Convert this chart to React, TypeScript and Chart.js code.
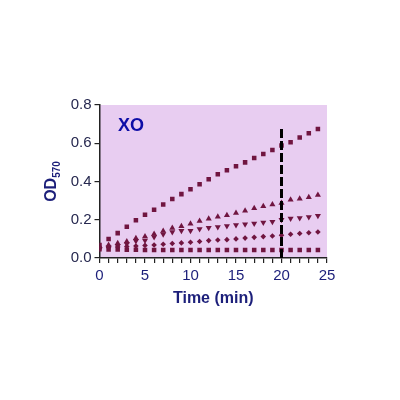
import { useEffect, useRef } from 'react';
import { Chart, registerables } from 'chart.js';

Chart.register(...registerables);

const TIME = [0, 1, 2, 3, 4, 5, 6, 7, 8, 9, 10, 11, 12, 13, 14, 15, 16, 17, 18, 19, 20, 21, 22, 23, 24];

const TOP_SQUARES = [
  0.068, 0.099, 0.13, 0.163, 0.197, 0.226, 0.252, 0.28, 0.308, 0.334, 0.36, 0.386, 0.412,
  0.438, 0.459, 0.48, 0.5, 0.523, 0.544, 0.565, 0.588, 0.605, 0.63, 0.652, 0.675,
];
const TRI_UP = [
  0.063, 0.068, 0.077, 0.086, 0.103, 0.112, 0.126, 0.141, 0.157, 0.166, 0.179, 0.193, 0.205,
  0.216, 0.224, 0.235, 0.247, 0.26, 0.27, 0.28, 0.287, 0.304, 0.31, 0.318, 0.329,
];
const TRI_DOWN = [
  0.049, 0.056, 0.063, 0.073, 0.089, 0.092, 0.11, 0.124, 0.136, 0.142, 0.142, 0.151, 0.158,
  0.162, 0.167, 0.172, 0.177, 0.18, 0.186, 0.19, 0.2, 0.206, 0.209, 0.214, 0.221,
];
const DIAMONDS = [
  0.05, 0.055, 0.058, 0.06, 0.063, 0.066, 0.068, 0.072, 0.076, 0.079, 0.082, 0.086, 0.091,
  0.094, 0.096, 0.1, 0.104, 0.108, 0.112, 0.115, 0.119, 0.124, 0.128, 0.132, 0.136,
];
const BOTTOM_SQUARES = [
  0.046, 0.045, 0.044, 0.043, 0.043, 0.042, 0.042, 0.042, 0.042, 0.042, 0.042, 0.042, 0.042,
  0.042, 0.042, 0.042, 0.042, 0.042, 0.042, 0.042, 0.042, 0.042, 0.042, 0.042, 0.042,
];

const CUTOFF_X = [20, 20];
const CUTOFF_Y = [0, 0.69];

const Y_TICKS = [0, 0.2, 0.4, 0.6, 0.8];

const MARKER = '#701540';
const NAVY = '#1c1f7a';
const FONT = '"Liberation Sans", Arial, sans-serif';

const pts = (ys: number[]) => ys.map((y, i) => ({ x: TIME[i], y }));

const panelPlugin = {
  id: 'panel',
  beforeDraw(chart: Chart) {
    const { ctx, chartArea: a } = chart;
    ctx.save();
    ctx.fillStyle = '#e8cdf1';
    ctx.fillRect(a.left, a.top, a.right - a.left, a.bottom - a.top);
    ctx.restore();
  },
  afterDraw(chart: Chart) {
    const { ctx, chartArea: a, scales } = chart;
    ctx.save();
    // y axis title with subscript
    ctx.fillStyle = NAVY;
    ctx.translate(56, (a.top + a.bottom) / 2);
    ctx.rotate(-Math.PI / 2);
    ctx.font = `bold 16px ${FONT}`;
    const wOD = ctx.measureText('OD').width;
    ctx.font = `bold 10px ${FONT}`;
    const wSub = ctx.measureText('570').width;
    const start = -(wOD + wSub) / 2;
    ctx.textBaseline = 'alphabetic';
    ctx.font = `bold 16px ${FONT}`;
    ctx.fillText('OD', start, 0);
    ctx.font = `bold 10px ${FONT}`;
    ctx.fillText('570', start + wOD, 4);
    ctx.restore();

    ctx.save();
    ctx.fillStyle = '#0d0da6';
    ctx.font = `bold 18px ${FONT}`;
    ctx.textAlign = 'center';
    ctx.textBaseline = 'middle';
    ctx.fillText('XO', scales.x.getPixelForValue(3.45), scales.y.getPixelForValue(0.69));
    ctx.restore();
  },
};

export default function App() {
  const canvasRef = useRef<HTMLCanvasElement>(null);

  useEffect(() => {
    if (!canvasRef.current) return;
    const series = [
      { data: TOP_SQUARES, pointStyle: 'rect', radius: 3.2, rotation: 0 },
      { data: TRI_UP, pointStyle: 'triangle', radius: 3.5, rotation: 0 },
      { data: TRI_DOWN, pointStyle: 'triangle', radius: 3.5, rotation: 180 },
      { data: DIAMONDS, pointStyle: 'rectRot', radius: 2.8, rotation: 0 },
      { data: BOTTOM_SQUARES, pointStyle: 'rect', radius: 3.2, rotation: 0 },
    ];

    const chart = new Chart(canvasRef.current, {
      type: 'scatter',
      data: {
        datasets: [
          {
            data: CUTOFF_X.map((x, i) => ({ x, y: CUTOFF_Y[i] })),
            showLine: true,
            borderColor: '#000',
            borderWidth: 3,
            borderDash: [9, 3],
            pointRadius: 0,
            order: 0,
          },
          ...series.map((s) => ({
            data: pts(s.data),
            pointStyle: s.pointStyle,
            pointRadius: s.radius,
            pointRotation: s.rotation,
            backgroundColor: MARKER,
            borderColor: MARKER,
            borderWidth: 0,
            order: 1,
          })),
        ],
      } as any,
      options: {
        animation: false,
        responsive: true,
        maintainAspectRatio: false,
        layout: { padding: { left: 0, top: 105, right: 73, bottom: 88 } },
        plugins: { legend: { display: false }, tooltip: { enabled: false } },
        scales: {
          x: {
            type: 'linear',
            min: 0,
            max: 25,
            afterFit: (s: any) => {
              s.height = 54;
            },
            ticks: {
              stepSize: 1,
              autoSkip: false,
              maxRotation: 0,
              padding: 4,
              color: NAVY,
              font: { family: FONT, size: 15 },
              callback: (v: any) => (Number(v) % 5 === 0 ? String(v) : ''),
            },
            grid: { drawOnChartArea: false, drawTicks: true, tickLength: 5, color: '#222', lineWidth: 1.2 },
            border: { color: '#222', width: 1.5 },
            title: {
              display: true,
              text: 'Time (min)',
              color: NAVY,
              font: { family: FONT, size: 16, weight: 'bold' },
            },
          },
          y: {
            type: 'linear',
            min: 0,
            max: 0.8,
            afterFit: (s: any) => {
              s.width = 99.5;
            },
            afterBuildTicks: (s: any) => {
              s.ticks = Y_TICKS.map((value) => ({ value }));
            },
            ticks: {
              padding: 3,
              color: '#26284f',
              font: { family: FONT, size: 15 },
              callback: (v: any) => Number(v).toFixed(1),
            },
            grid: { drawOnChartArea: false, drawTicks: true, tickLength: 5, color: '#222', lineWidth: 1.2 },
            border: { color: '#222', width: 1.5 },
          },
        },
      },
      plugins: [panelPlugin],
    });

    return () => chart.destroy();
  }, []);

  return (
    <div style={{ position: 'fixed', left: 0, top: 0, width: 400, height: 400, background: '#fff' }}>
      <canvas ref={canvasRef} />
    </div>
  );
}
